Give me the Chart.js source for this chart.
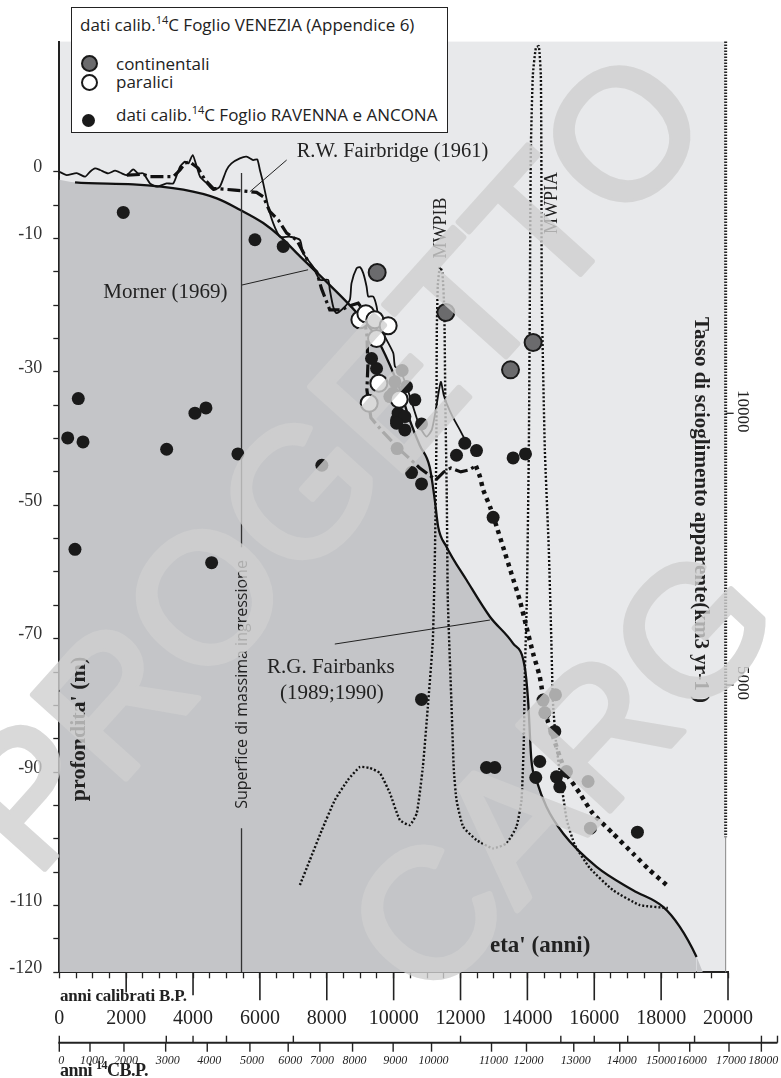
<!DOCTYPE html>
<html>
<head>
<meta charset="utf-8">
<script src="https://cdn.jsdelivr.net/npm/chart.js@4.4.0/dist/chart.umd.min.js"></script>
<style>
  body { margin: 0; background: #fff; }
  #box { position: relative; width: 781px; height: 1078px; overflow: hidden; }
  #grafico { position: absolute; left: 0; top: 0; }
  .leg { position: absolute; left: 71px; top: 7px; width: 375px; height: 124px; border: 1px solid #222; background: #fff;
         font-family: 'Open Sans', 'Liberation Sans', sans-serif; font-size: 17px; color: #222; }
  .leg div { position: absolute; white-space: nowrap; line-height: 20px; }
  .leg sup { font-size: 11px; vertical-align: 7px; line-height: 0; }
  .pallino { position: absolute; border-radius: 50%; box-sizing: border-box; }
  .asse { position: absolute; left: 60px; white-space: nowrap; font-family: 'Liberation Serif', 'Times New Roman', serif; font-weight: bold; color: #222; }
  .asse sup { font-size: 12px; vertical-align: 7px; line-height: 0; }
</style>
</head>
<body>
<div id="box">
  <canvas id="grafico" width="781" height="1078"></canvas>
  <div class="leg">
    <div style="left:8px; top:7px;">dati calib.<sup>14</sup>C Foglio VENEZIA (Appendice 6)</div>
    <div class="pallino" style="left:9px; top:47px; width:17px; height:17px; background:#6b6b6d; border:2px solid #1a1a1a;"></div>
    <div style="left:44px; top:46px;">continentali</div>
    <div class="pallino" style="left:9px; top:66px; width:17px; height:17px; background:#fff; border:2px solid #1a1a1a;"></div>
    <div style="left:44px; top:64px;">paralici</div>
    <div class="pallino" style="left:10px; top:106px; width:13px; height:13px; background:#1a1a1a;"></div>
    <div style="left:44px; top:97px;">dati calib.<sup>14</sup>C Foglio RAVENNA e ANCONA</div>
  </div>
  <div class="asse" style="top:988px; font-size:17px; line-height:16px; letter-spacing:-0.2px;">anni calibrati B.P.</div>
  <div class="asse" style="top:1061px; font-size:18px; line-height:18px; letter-spacing:-0.5px;">anni <sup>14</sup>CB.P.</div>
</div>
<script>
var serif = "'Liberation Serif', 'Times New Roman', serif";
var sans = "'Open Sans', 'Liberation Sans', sans-serif";

// curva R.G. Fairbanks (anni cal. BP, quota m)
var anniFairbanks = [0, 470, 2210, 3710, 4710, 5400, 6100, 6600, 7200, 8090, 8870, 9440, 9890, 10190, 10480, 10780, 11080, 11230, 11330, 11580, 12180, 12880, 13570, 13920, 14020, 14120, 14270, 14570, 15070, 16070, 17160, 18060, 18560, 19060, 19250];
var quoteFairbanks = [-1.2, -1.6, -1.9, -2.7, -4.0, -5.7, -7.7, -9.7, -12.7, -17.0, -21.0, -24.5, -29.0, -32.7, -37.2, -41.0, -44.3, -49.2, -53.2, -56.2, -61.2, -66.7, -70.7, -74.2, -79.2, -88.2, -91.2, -95.2, -99.2, -104.2, -107.7, -110.2, -113.2, -117.7, -120];

// curva oscillante (Fairbridge)
var anniFairbridge = [0, 220, 520, 770, 920, 1070, 1220, 1460, 1670, 1870, 2020, 2210, 2360, 2510, 2710, 2910, 3210, 3410, 3610, 3760, 3860, 3990, 4110, 4210, 4410, 4600, 4800, 5000, 5150, 5400, 5600, 5800, 5920, 6000, 6100, 6250, 6400, 6600, 6900, 7200, 7290, 7590, 7790, 8040, 8090, 8190, 8290, 8490, 8690, 8740, 8890, 8990, 9090, 9190, 9240, 9390, 9490, 9590, 9790, 9990, 10040, 10190, 10390, 10580, 10780, 10980, 11140, 11260, 11410, 11500, 11590, 11770, 11980, 12220];
var quoteFairbridge = [0, -0.5, -0.2, -0.75, 0, 0.5, 0.25, -0.25, 0.15, -0.25, -0.5, 0.35, -0.25, -0.25, -1.75, -2.25, -1.75, -1.75, 0.75, 1.5, 1.25, 2.5, 0.75, -0.75, -1.75, -2.75, -2.25, 0.25, 1.25, 2.0, 2.25, 1.75, 1.85, 0.25, -1.75, -5.25, -7.75, -9.75, -9.75, -10.25, -12.2, -14.25, -16.2, -16.2, -17.7, -20.2, -21.2, -20.5, -19.2, -16.7, -14.5, -14.3, -15.2, -17.2, -18.7, -18.7, -20.2, -23.2, -25.2, -27.2, -29.2, -29.7, -32.2, -35.2, -38.2, -39.7, -38.7, -35.7, -31.5, -33.5, -34.8, -36.8, -38.7, -41.0];

// curva tratto-punto (Morner)
var anniMorner = [2020, 2510, 2710, 3410, 3610, 3760, 3910, 4150, 4360, 4600, 5250, 5900, 6100, 6300, 6550, 6800, 7100, 7500, 7700, 7840, 8090, 8440, 8740, 8940, 9080, 9200, 9230, 9200, 9320, 9680, 10190, 10780, 11260, 11500, 11710, 12010, 12250, 12460];
var quoteMorner = [-0.5, -0.4, -0.75, -0.75, 0.25, 1.3, 1.45, 0.55, -1.25, -2.5, -2.75, -3.1, -3.75, -6.0, -7.25, -9.2, -10.25, -14.0, -15.0, -17.5, -20.7, -20.7, -20.0, -19.7, -20.7, -24.5, -29.0, -32.7, -36.9, -39.0, -41.7, -44.4, -46.2, -45.0, -44.4, -45.0, -44.7, -44.1];

// curva a punti grossi
var anniPuntinato = [12460, 12580, 12680, 12880, 13080, 13270, 13520, 13770, 13970, 14170, 14370, 14570, 14770, 14970, 15170, 15570, 15960, 16560, 17160, 17660, 18160];
var quotePuntinato = [-44.1, -45.7, -47.7, -50.2, -53.2, -56.2, -60.2, -64.2, -68.2, -72.2, -75.7, -81.7, -84.7, -87.7, -90.2, -93.2, -96.2, -99.2, -102.2, -104.7, -106.9];

// tasso di scioglimento (km3/yr), asse destro
var anniMWP = [7196, 7495, 7853, 8242, 8631, 8990, 9288, 9587, 9886, 10185, 10484, 10693, 10873, 11022, 11172, 11231, 11276, 11291, 11321, 11381, 11456, 11515, 11545, 11590, 11620, 11725, 11800, 11880, 12078, 12478, 12975, 13375, 13674, 13824, 13894, 13924, 13983, 14043, 14073, 14103, 14163, 14253, 14342, 14402, 14417, 14432, 14522, 14641, 14716, 14761, 14850, 15000, 15179, 15419, 15867, 16555, 17362, 18200];
var tassoMWP = [1319, 1779, 2331, 2883, 3251, 3490, 3472, 3380, 3012, 2515, 2423, 2644, 3490, 4594, 5827, 7299, 9323, 11531, 12359, 12690, 12598, 11899, 10243, 8403, 6563, 4723, 3435, 2883, 2392, 2147, 1994, 2086, 2392, 2883, 3987, 5220, 6563, 9323, 12083, 14843, 16223, 16720, 16757, 16223, 14843, 12083, 9323, 7483, 5827, 4723, 3987, 3251, 2515, 2055, 1632, 1227, 951, 897];

// dati calibrati 14C
var anniNeri = [1913, 5851, 6697, 568, 251, 709, 3211, 4057, 4386, 5342, 469, 4556, 7853, 10834, 12777, 13025, 14251, 14469, 14840, 14819, 14520, 14370, 14969, 15169, 14870, 15815, 15886, 17291, 12975, 13573, 13943, 11880, 12128, 12478, 10104, 10535, 10834, 10834, 10335, 10087, 9489, 9339, 10254, 10036, 10385, 10634, 9985, 10134, 10335, 10087, 9886];
var quoteNeri = [-6.1, -10.2, -11.2, -34.0, -39.9, -40.5, -41.6, -36.2, -35.4, -42.3, -56.6, -58.6, -44.0, -79.1, -89.3, -89.3, -90.8, -79.2, -78.4, -83.9, -81.1, -88.4, -92.2, -89.9, -90.7, -91.4, -98.4, -99.0, -51.8, -42.9, -42.3, -42.5, -40.7, -41.8, -41.5, -45.1, -46.8, -37.8, -38.7, -37.2, -29.5, -28.0, -29.8, -31.5, -32.2, -34.2, -33.2, -36.2, -36.7, -37.7, -33.7];
var anniContinentali = [9507, 11561, 14171, 13495];
var quoteContinentali = [-15.1, -21.1, -25.6, -29.7];
var anniParalici = [8990, 9169, 9438, 9836, 9489, 9558, 9268, 10164];
var quoteParalici = [-22.2, -21.3, -22.2, -23.1, -25.0, -31.7, -34.7, -34.1];

// linee di richiamo delle etichette e superficie di massima ingressione
var guidaFairbridge = [[6800, 1.75], [5700, -3.0]];
var guidaMorner = [[5450, -17.0], [7440, -14.7]];
var guidaFairbanks = [[8240, -70.8], [12880, -67.2]];
var anniSuperficie = [5450, 5450, 5450, 5450, 5450];
var quoteSuperficie = [-0.2, -56.3, null, -98.4, -120];

// assi
var etichetteY = [0, -10, -30, -50, -70, -90, -110, -120];
var tickTasso = [10000, 5000];
var anni14C = [0, 1000, 2000, 3000, 4000, 5000, 6000, 7000, 8000, 9000, 10000, 11000, 12000, 13000, 14000, 15000, 16000, 17000, 18000];
var anni14Ccal = [0, 918, 1934, 3181, 4425, 5701, 6846, 7794, 8771, 9985, 11133, 12927, 13973, 15387, 16762, 17937, 18855, 20030, 20998];
var tickSuCal = [0, 3200, 4000, 5000, 7000, 12000, 15000, 16000, 17000, 19000, 21000, 21480];

function punti(xs, ys) {
  return xs.map(function (x, i) { return { x: x, y: ys[i] }; });
}
function coppie(arr) {
  return arr.map(function (p) { return { x: p[0], y: p[1] }; });
}

function scrivi(ctx, testo, x, y, font, opz) {
  opz = opz || {};
  ctx.save();
  ctx.font = font;
  ctx.fillStyle = opz.colore || '#222';
  ctx.textAlign = opz.align || 'left';
  ctx.textBaseline = opz.base || 'alphabetic';
  ctx.translate(x, y);
  if (opz.rot) ctx.rotate(opz.rot * Math.PI / 180);
  if (opz.maxW) ctx.fillText(testo, 0, 0, opz.maxW); else ctx.fillText(testo, 0, 0);
  ctx.restore();
}

function linea(ctx, x1, y1, x2, y2) {
  ctx.beginPath(); ctx.moveTo(x1, y1); ctx.lineTo(x2, y2); ctx.stroke();
}

// filigrana PROGETTO CARG: disegnata piena su un canvas a parte, poi sovrapposta trasparente
function filigrana(ctx) {
  var c = document.createElement('canvas');
  c.width = 781; c.height = 1078;
  var f = c.getContext('2d');
  f.fillStyle = '#d0d0d0';
  f.strokeStyle = '#d0d0d0';
  f.lineWidth = 6;
  f.lineJoin = 'round';
  f.font = '182px "Liberation Sans", Arial, sans-serif';
  f.textAlign = 'center'; f.textBaseline = 'middle';
  [['PROGETTO', 338, 468, -48], ['CARG', 570, 780, -47]].forEach(function (w) {
    f.save();
    f.translate(w[1], w[2]); f.rotate(w[3] * Math.PI / 180);
    f.strokeText(w[0], 0, 0);
    f.fillText(w[0], 0, 0);
    f.restore();
  });
  ctx.save();
  ctx.globalAlpha = 0.8;
  ctx.drawImage(c, 0, 0);
  ctx.restore();
}

var decorazioni = {
  id: 'decorazioni',
  beforeDraw: function (chart) {
    var ctx = chart.ctx, a = chart.chartArea, x = chart.scales.x;
    ctx.save();
    ctx.fillStyle = '#e8e9eb';
    ctx.fillRect(a.left, a.top, x.getPixelForValue(19930) - a.left, a.bottom - a.top);
    ctx.restore();
  },
  afterDatasetsDraw: function (chart) {
    var ctx = chart.ctx, a = chart.chartArea;
    var x = chart.scales.x, y2 = chart.scales.y2;
    ctx.save();
    ctx.strokeStyle = '#222';

    // asse destro (tasso di scioglimento)
    var xr = x.getPixelForValue(19930);
    var yFine = y2.getPixelForValue(2200);
    ctx.lineWidth = 3; ctx.setLineDash([1.5, 1.5]);
    linea(ctx, xr, a.top, xr, yFine);
    ctx.setLineDash([]);
    ctx.lineWidth = 1; ctx.strokeStyle = '#888';
    linea(ctx, xr, yFine, xr, a.bottom);
    ctx.strokeStyle = '#222'; ctx.lineWidth = 1.3;
    tickTasso.forEach(function (v) {
      var py = y2.getPixelForValue(v);
      linea(ctx, xr, py, xr + 8, py);
      scrivi(ctx, String(v), xr + 17, py - 2, '17px ' + serif, { rot: 90, align: 'center', base: 'middle' });
    });

    // tacche lunghe asse anni calibrati
    ctx.lineWidth = 1.6;
    for (var v = 2000; v <= 20000; v += 2000) {
      var px = x.getPixelForValue(v);
      var l = v === 2000 ? 20 : (v === 4000 ? 23 : 28);
      linea(ctx, px, a.bottom, px, a.bottom + l);
    }

    // secondo asse: anni 14C BP
    var yb = 1042.7;
    ctx.lineWidth = 2;
    linea(ctx, x.getPixelForValue(0) - 1, yb, x.getPixelForValue(21480), yb);
    ctx.lineWidth = 1.4;
    anni14Ccal.forEach(function (c, i) {
      var px = x.getPixelForValue(c);
      linea(ctx, px, yb, px, yb + 9);
      scrivi(ctx, String(anni14C[i]), px + 2, 1061, 'italic 12px ' + serif, { align: 'center', base: 'middle' });
    });
    tickSuCal.forEach(function (c) {
      var px = x.getPixelForValue(c);
      linea(ctx, px, yb - 7, px, yb);
    });

    // etichette
    scrivi(ctx, 'R.W. Fairbridge (1961)', 296.7, 156.5, '20.5px ' + serif);
    scrivi(ctx, 'Morner (1969)', 103.3, 298.3, '21px ' + serif);
    scrivi(ctx, 'R.G. Fairbanks', 267, 673.3, '21px ' + serif);
    scrivi(ctx, '(1989;1990)', 280, 699, '21px ' + serif);
    scrivi(ctx, 'MWPIB', 441, 228, '18px ' + serif, { rot: -90, align: 'center', base: 'middle' });
    scrivi(ctx, 'MWPIA', 552.5, 203, '18px ' + serif, { rot: -90, align: 'center', base: 'middle' });
    scrivi(ctx, "eta' (anni)", 490, 952, 'bold 23px ' + serif);
    scrivi(ctx, "profondita' (m)", 79, 729, 'bold 22px ' + serif, { rot: -90, align: 'center', base: 'middle' });
    scrivi(ctx, 'Superfice di massima ingressione', 242, 684.5, '16px ' + sans, { rot: -90, align: 'center', base: 'middle', maxW: 275 });
    scrivi(ctx, 'Tasso di scioglimento apparente(km3 yr-1 )', 700, 510, 'bold 21px ' + serif, { rot: 90, align: 'center', base: 'middle', maxW: 420 });
    ctx.restore();
  },
  afterDraw: function (chart) {
    filigrana(chart.ctx);
  }
};

var ultimo = anniFairbanks.length - 1;

var grafico = new Chart(document.getElementById('grafico').getContext('2d'), {
  type: 'line',
  data: {
    datasets: [
      { label: 'paralici', data: punti(anniParalici, quoteParalici), showLine: false, pointRadius: 8.5, pointBackgroundColor: '#fff', pointBorderColor: '#1a1a1a', pointBorderWidth: 2 },
      { label: 'continentali', data: punti(anniContinentali, quoteContinentali), showLine: false, pointRadius: 8.5, pointBackgroundColor: '#6b6b6d', pointBorderColor: '#1a1a1a', pointBorderWidth: 2 },
      { label: 'RAVENNA e ANCONA', data: punti(anniNeri, quoteNeri), showLine: false, pointRadius: 6.5, pointBackgroundColor: '#1a1a1a', pointBorderWidth: 0 },
      { label: 'Fairbridge', data: punti(anniFairbridge, quoteFairbridge), borderColor: '#111', borderWidth: 1.8, pointRadius: 0, tension: 0.2 },
      { label: 'Morner', data: punti(anniMorner, quoteMorner), borderColor: '#111', borderWidth: 3.2, borderDash: [13, 4, 3, 4], pointRadius: 0, tension: 0 },
      { label: 'puntinato', data: punti(anniPuntinato, quotePuntinato), borderColor: '#111', borderWidth: 4.5, borderDash: [4, 4.5], pointRadius: 0, tension: 0.2 },
      { label: 'MWP', data: punti(anniMWP, tassoMWP), yAxisID: 'y2', borderColor: '#111', borderWidth: 2.4, borderDash: [2, 2], pointRadius: 0, tension: 0.15 },
      { label: 'Superficie', data: punti(anniSuperficie, quoteSuperficie), borderColor: '#333', borderWidth: 1.3, pointRadius: 0, spanGaps: false },
      { label: 'guida1', data: coppie(guidaFairbridge), borderColor: '#222', borderWidth: 1, pointRadius: 0 },
      { label: 'guida2', data: coppie(guidaMorner), borderColor: '#222', borderWidth: 1, pointRadius: 0 },
      { label: 'guida3', data: coppie(guidaFairbanks), borderColor: '#222', borderWidth: 1, pointRadius: 0 },
      { label: 'Fairbanks', data: punti(anniFairbanks, quoteFairbanks), borderColor: '#111', borderWidth: 2.3, pointRadius: 0,
        cubicInterpolationMode: 'monotone', fill: 'start', backgroundColor: '#c4c5c8',
        segment: { borderColor: function (c) { return (c.p0DataIndex === 0 || c.p1DataIndex === ultimo) ? 'rgba(0,0,0,0)' : '#111'; } } }
    ]
  },
  options: {
    responsive: false,
    animation: false,
    devicePixelRatio: 1,
    layout: { padding: { left: 0, right: 53, top: 41.6, bottom: 0 } },
    plugins: { legend: { display: false }, tooltip: { enabled: false }, filler: { drawTime: 'beforeDatasetsDraw' } },
    scales: {
      x: {
        type: 'linear', min: 0, max: 20000,
        afterFit: function (s) { s.height = 105.7; },
        border: { color: '#222', width: 2 },
        grid: { drawOnChartArea: false, tickLength: 6, tickColor: '#222', tickWidth: 1.3 },
        ticks: { stepSize: 500, autoSkip: false, maxRotation: 0, padding: 28, color: '#222', font: { family: serif, size: 20 },
                 callback: function (v) { return v % 2000 === 0 ? String(v) : ''; } }
      },
      y: {
        min: -120, max: 19.5,
        afterFit: function (s) { s.width = 59.3; },
        afterBuildTicks: function (s) { s.ticks = s.ticks.filter(function (t) { return t.value <= 0; }); },
        border: { color: '#222', width: 2 },
        grid: { drawOnChartArea: false, tickLength: 6, tickColor: '#222', tickWidth: 1.3 },
        ticks: { stepSize: 5, autoSkip: false, padding: 11, labelOffset: -4, color: '#333', font: { family: serif, size: 18 },
                 callback: function (v) { return etichetteY.indexOf(v) >= 0 ? String(v) : ''; } }
      },
      y2: { display: false, position: 'right', min: -287, max: 16840 }
    }
  },
  plugins: [decorazioni]
});
</script>
</body>
</html>
